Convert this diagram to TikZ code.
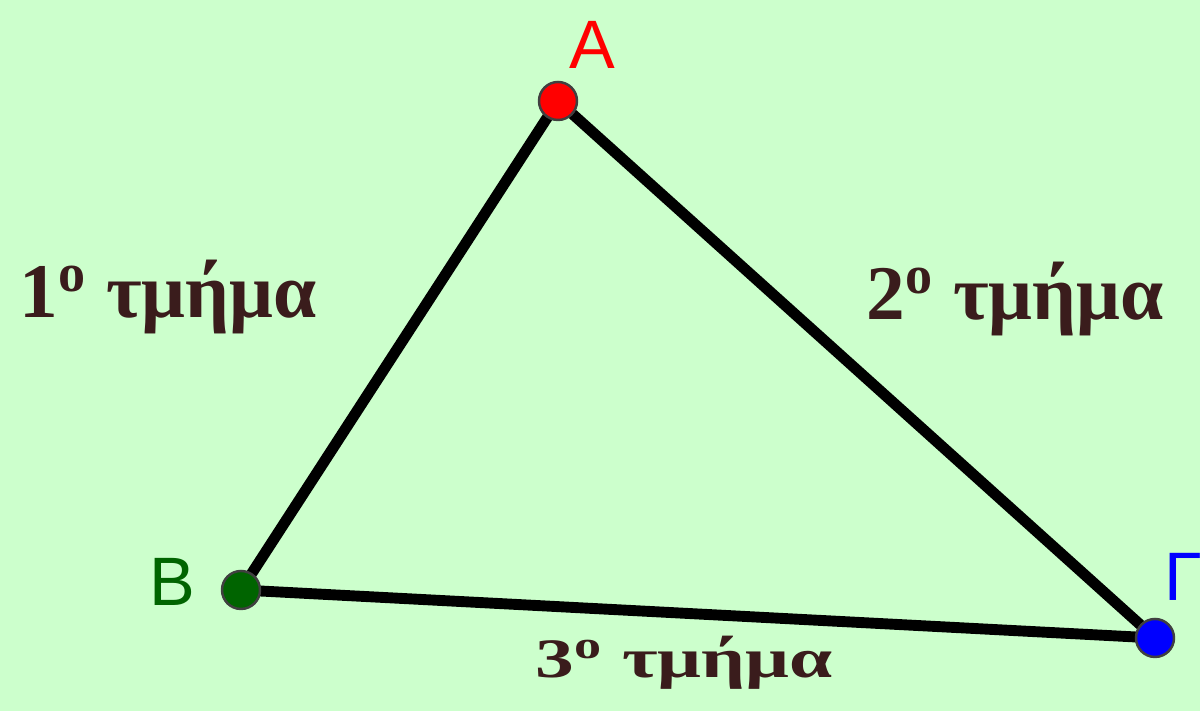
\documentclass[tikz,border=0pt]{standalone}
\usepackage{fontspec}
\setmainfont{Liberation Serif}
\newfontfamily\vertexfont{Liberation Sans}
\usetikzlibrary{positioning,backgrounds}
\definecolor{bggreen}{HTML}{CCFFCC}
\definecolor{segbrown}{HTML}{3A1C1C}
\definecolor{ptgreen}{HTML}{006400}

\begin{document}
\begin{tikzpicture}[pt/.style={circle, draw=black!75, line width=0.7pt, minimum size=0.38cm, inner sep=0pt},
  seg/.style={line width=3.1pt, line cap=round},
  seglabel/.style={font=\bfseries\fontsize{22}{26}\selectfont, text=segbrown, anchor=base},
  vlabel/.style={font=\vertexfont\fontsize{19.5}{22}\selectfont, inner sep=0pt}]
  \clip (0,0) rectangle (12,7.11);
  \node[pt, fill=red] (A) at (5.58,6.10) {};
  \node[pt, fill=ptgreen] (B) at (2.41,1.21) {};
  \node[pt, fill=blue] (G) at (11.55,0.73) {};
  \begin{scope}[on background layer]
    \fill[bggreen] (0,0) rectangle (12,7.11);
    \draw[seg] (A.center) -- (B.center) -- (G.center) -- cycle;
  \end{scope}
  % vertex names
  \node[vlabel, text=red] (lA) at (5.92,6.66) {A};
  \node[vlabel, text=ptgreen] (lB) at (1.72,1.29) {B};
  \node[vlabel, text=blue, anchor=north west] (lG) at (11.64,1.58) {Γ};
  % segment names
  \node[seglabel] (s1) at (1.68,3.93) {1\textsuperscript{ο} τμήμα};
  \node[seglabel] (s2) at (10.15,3.91) {2\textsuperscript{ο} τμήμα};
  \node[seglabel] (s3) at (6.84,0.33) {\scalebox{1}[0.72]{3\textsuperscript{ο} τμήμα}};
\end{tikzpicture}
\end{document}
